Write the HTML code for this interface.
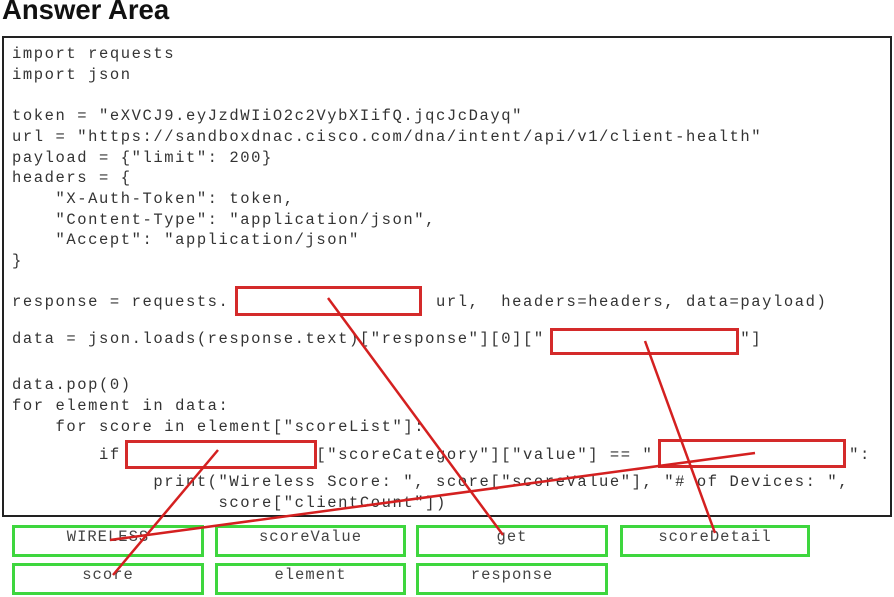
<!DOCTYPE html>
<html><head><meta charset="utf-8"><style>
body{margin:0;width:894px;height:597px;background:#fff;position:relative;overflow:hidden;font-family:"Liberation Mono",monospace}
.t{position:absolute;left:2px;top:-6px;font:bold 27.5px "Liberation Sans",sans-serif;color:#111}
.main{position:absolute;left:2px;top:36px;width:886px;height:477px;border:2px solid #222}
.l{position:absolute;left:12px;font-size:15.5px;letter-spacing:1.57px;line-height:20px;color:#333;white-space:pre}
.r{position:absolute;border:3px solid #d42a2a;box-sizing:border-box;background:#fff}
.g{position:absolute;border:3px solid #3ed63e;box-sizing:border-box;text-align:center;font-size:15.5px;letter-spacing:1px;color:#444;line-height:18px}
</style></head><body>
<div class="t">Answer Area</div>
<div class="main"></div>
<div class="l" style="top:44px">import requests</div>
<div class="l" style="top:65px">import json</div>
<div class="l" style="top:106px">token = "eXVCJ9.eyJzdWIiO2c2VybXIifQ.jqcJcDayq"</div>
<div class="l" style="top:127px">url = "https://sandboxdnac.cisco.com/dna/intent/api/v1/client-health"</div>
<div class="l" style="top:148px">payload = {"limit": 200}</div>
<div class="l" style="top:168px">headers = {</div>
<div class="l" style="top:189px">    "X-Auth-Token": token,</div>
<div class="l" style="top:210px">    "Content-Type": "application/json",</div>
<div class="l" style="top:230px">    "Accept": "application/json"</div>
<div class="l" style="top:251px">}</div>
<div class="l" style="top:292px">response = requests.                 ( url,  headers=headers, data=payload)</div>
<div class="l" style="top:329px">data = json.loads(response.text)["response"][0]["                  "]</div>
<div class="l" style="top:375px">data.pop(0)</div>
<div class="l" style="top:396px">for element in data:</div>
<div class="l" style="top:417px">    for score in element["scoreList"]:</div>
<div class="l" style="top:445px">        if                  ["scoreCategory"]["value"] == "                  ":</div>
<div class="l" style="top:472px">             print("Wireless Score: ", score["scoreValue"], "# of Devices: ",</div>
<div class="l" style="top:493px">                   score["clientCount"])</div>
<div class="r" style="left:235px;top:286px;width:187px;height:30px"></div>
<div class="r" style="left:550px;top:328px;width:189px;height:27px"></div>
<div class="r" style="left:125px;top:440px;width:192px;height:29px"></div>
<div class="r" style="left:658px;top:439px;width:188px;height:29px"></div>
<div class="g" style="left:12px;top:525px;width:192px;height:32px">WIRELESS</div>
<div class="g" style="left:215px;top:525px;width:191px;height:32px">scoreValue</div>
<div class="g" style="left:416px;top:525px;width:192px;height:32px">get</div>
<div class="g" style="left:620px;top:525px;width:190px;height:32px">scoreDetail</div>
<div class="g" style="left:12px;top:563px;width:192px;height:32px">score</div>
<div class="g" style="left:215px;top:563px;width:191px;height:32px">element</div>
<div class="g" style="left:416px;top:563px;width:192px;height:32px">response</div>
<svg width="894" height="597" style="position:absolute;left:0;top:0">
<g stroke="#d42020" stroke-width="2.5" fill="none">
<line x1="328" y1="298" x2="503" y2="535"/>
<line x1="645" y1="341" x2="715" y2="533"/>
<line x1="218" y1="450" x2="113" y2="575"/>
<line x1="755" y1="453" x2="110" y2="540"/>
</g></svg>
</body></html>
